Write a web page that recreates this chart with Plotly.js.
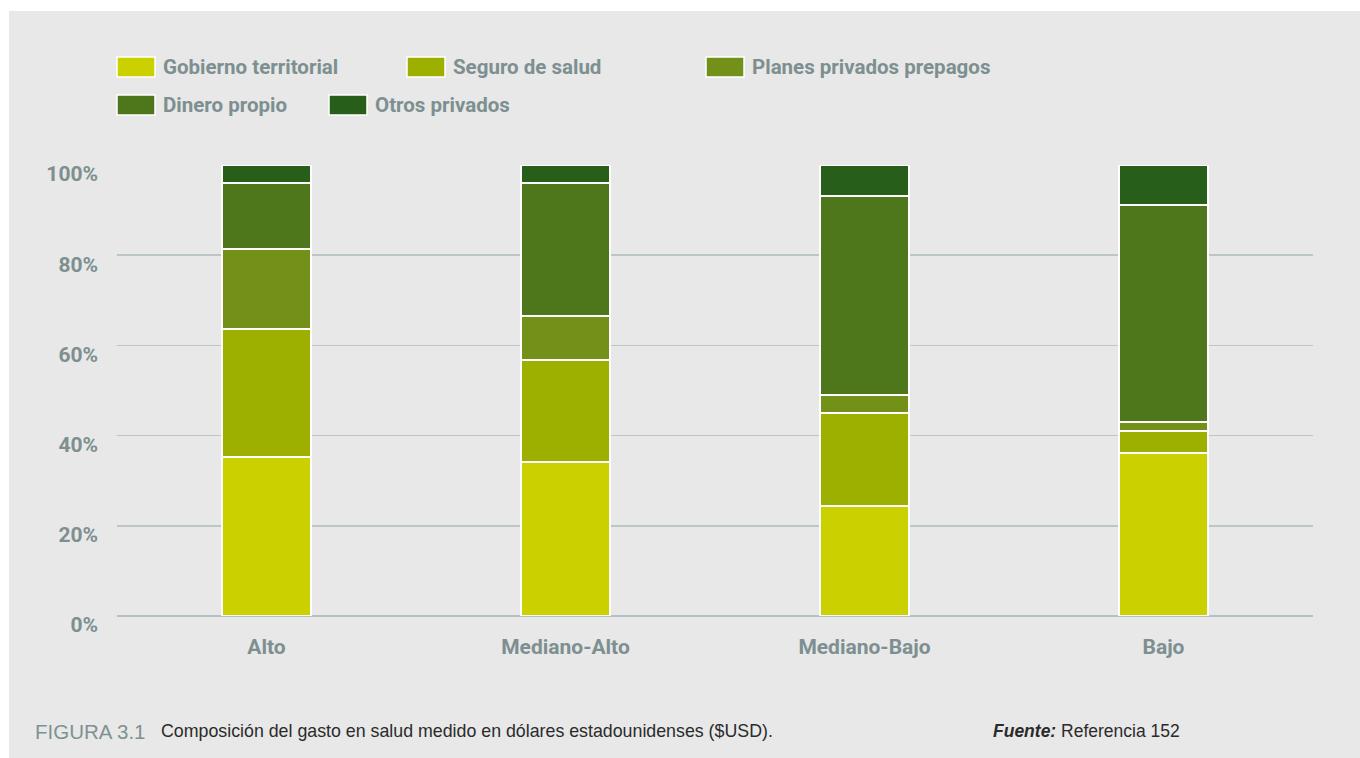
<!DOCTYPE html>
<html>
<head>
<meta charset="utf-8">
<script src="https://cdn.plot.ly/plotly-3.0.1.min.js"></script>
<style>
html,body{margin:0;padding:0;background:#ffffff;}
#chart{width:1360px;height:758px;}
</style>
</head>
<body>
<div id="chart"></div>
<script>
// ---- data ----
const categories = ["Alto", "Mediano-Alto", "Mediano-Bajo", "Bajo"];
const seriesNames = ["Gobierno territorial", "Seguro de salud", "Planes privados prepagos", "Dinero propio", "Otros privados"];
const gobiernoTerritorial = [35.3, 34.1, 24.5, 36.2];
const seguroSalud = [28.4, 22.6, 20.6, 4.9];
const planesPrepagos = [17.7, 9.8, 3.9, 2.0];
const dineroPropio = [14.6, 29.5, 44.1, 48.0];
const otrosPrivados = [4.0, 4.0, 6.9, 8.9];
const yTickVals = [0, 20, 40, 60, 80, 100];
const yTickText = ["0%", "20%", "40%", "60%", "80%", "100%"];
const colors = ["#cbd100", "#9db000", "#739118", "#4e761b", "#265e1a"];

const seriesValues = [gobiernoTerritorial, seguroSalud, planesPrepagos, dineroPropio, otrosPrivados];

// ---- layout helpers (pixel -> paper) ----
const W = 1360, H = 758;
const mL = 117, mR = 47, mT = 165, mB = 142;
const pw = W - mL - mR, ph = H - mT - mB;
const px = x => (x - mL) / pw;
const py = y => (H - mB - y) / ph;

const labelFont = "'Liberation Sans Narrow', 'Roboto', 'DejaVu Sans Condensed', sans-serif";
const gray = "#7d8f90";

const traces = seriesValues.map((vals, i) => ({
  type: "bar",
  name: seriesNames[i],
  x: categories,
  y: vals,
  width: 0.3,
  marker: { color: colors[i], line: { color: "#ffffff", width: 2 } },
  showlegend: false,
  hoverinfo: "name+y"
}));

// custom legend built from seriesNames / colors
const legendPos = [[117, 67], [407, 67], [706, 67], [117, 105], [329, 105]];
const shapes = [
  { type: "rect", xref: "paper", yref: "paper", x0: px(9), x1: px(W), y0: py(H), y1: py(11),
    fillcolor: "#e7e8e7", line: { width: 0 }, layer: "below" }
];
const annotations = [];
seriesNames.forEach((n, i) => {
  const [lx, ly] = legendPos[i];
  shapes.push({ type: "rect", xref: "paper", yref: "paper",
    x0: px(lx), x1: px(lx + 38), y0: py(ly + 10), y1: py(ly - 10),
    fillcolor: colors[i], line: { color: "#ffffff", width: 1.5 } });
  annotations.push({ xref: "paper", yref: "paper", x: px(lx + 44), y: py(ly), xanchor: "left", yanchor: "middle",
    text: n, showarrow: false, font: { family: labelFont, size: 20.5, color: gray, weight: "bold" } });
});
annotations.push({ xref: "paper", yref: "paper", x: px(33), y: py(731), xanchor: "left", yanchor: "middle",
  text: "FIGURA 3.1", showarrow: false, font: { family: "'Liberation Sans', Arial, sans-serif", size: 20.5, color: "#7f9192" } });
annotations.push({ xref: "paper", yref: "paper", x: px(159), y: py(731), xanchor: "left", yanchor: "middle",
  text: "Composición del gasto en salud medido en dólares estadounidenses ($USD).", showarrow: false,
  font: { family: "'Liberation Sans', Arial, sans-serif", size: 17.8, color: "#2b2b2b" } });
annotations.push({ xref: "paper", yref: "paper", x: px(991), y: py(731), xanchor: "left", yanchor: "middle",
  text: "<b><i>Fuente:</i></b> Referencia 152", showarrow: false,
  font: { family: "'Liberation Sans', Arial, sans-serif", size: 17.5, color: "#2b2b2b" } });

const layout = {
  width: W, height: H,
  margin: { l: mL, r: mR, t: mT, b: mB, pad: 0 },
  paper_bgcolor: "#ffffff",
  plot_bgcolor: "rgba(0,0,0,0)",
  barmode: "stack",
  showlegend: false,
  xaxis: {
    type: "category", range: [-0.5, 3.5], showgrid: false, zeroline: false, showline: false,
    ticks: "", ticklabelstandoff: 16,
    tickfont: { family: labelFont, size: 21, color: gray, weight: "bold" }
  },
  yaxis: {
    range: [0, 100], tickvals: yTickVals, ticktext: yTickText,
    showgrid: true, gridcolor: "#bcc6c7", gridwidth: 1.5,
    zeroline: true, zerolinecolor: "#b6c1c2", zerolinewidth: 2.5,
    showline: false, ticks: "", ticklabelstandoff: 18, ticklabelshift: 9,
    tickfont: { family: labelFont, size: 21, color: gray, weight: "bold" }
  },
  shapes: shapes,
  annotations: annotations
};

Plotly.newPlot("chart", traces, layout, { displayModeBar: false, staticPlot: true });
</script>
</body>
</html>
